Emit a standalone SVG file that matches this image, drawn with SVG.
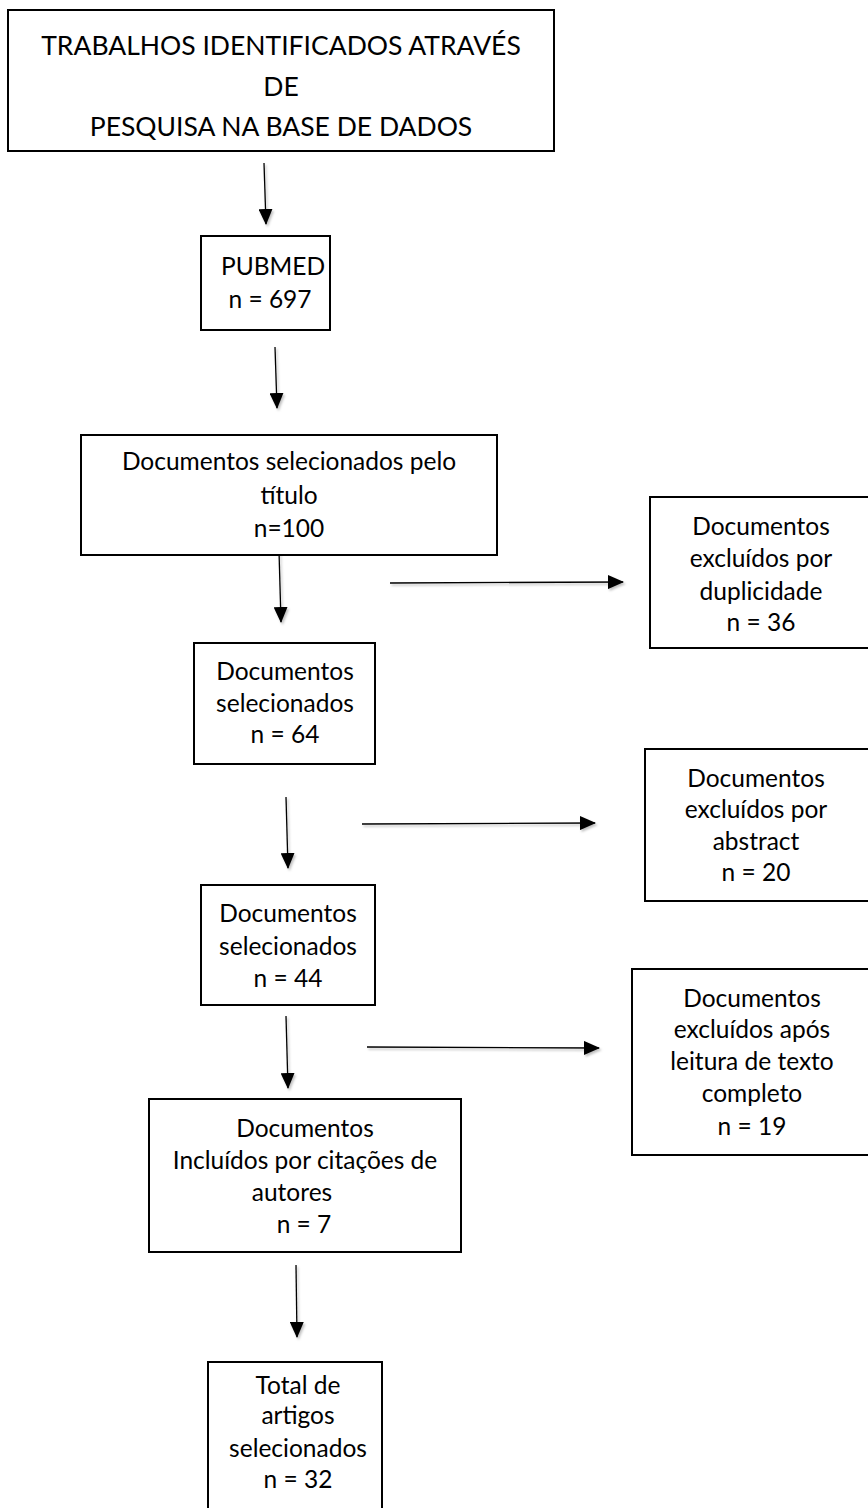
<svg xmlns="http://www.w3.org/2000/svg" width="868" height="1508" viewBox="0 0 868 1508">
<defs>
<marker id="ah" markerUnits="userSpaceOnUse" markerWidth="16" markerHeight="14" refX="15" refY="7" orient="auto">
<path d="M0,0 L16,7 L0,14 Z" fill="#000"/>
</marker>
<filter id="sh" filterUnits="userSpaceOnUse" x="0" y="0" width="868" height="1508">
<feDropShadow dx="1.5" dy="2" stdDeviation="1.2" flood-color="#000" flood-opacity="0.25"/>
</filter>
</defs>
<style>
.box{fill:#fff;stroke:#000;stroke-width:2}
.t{font-family:Lato,"Open Sans","Liberation Sans",sans-serif;font-size:24.5px;fill:#000;text-anchor:middle}
.h{font-size:26.5px}
.c{stroke:#000;stroke-width:1.3;fill:none;marker-end:url(#ah)}
</style>
<rect width="868" height="1508" fill="#fff"/>
<g id="connectors" filter="url(#sh)">
<line class="c" x1="264" y1="163" x2="266" y2="224"/>
<line class="c" x1="275" y1="347" x2="277" y2="408"/>
<line class="c" x1="279" y1="551" x2="281" y2="622"/>
<line class="c" x1="390" y1="583" x2="623" y2="582"/>
<line class="c" x1="286" y1="797" x2="288" y2="868"/>
<line class="c" x1="362" y1="824" x2="595" y2="823"/>
<line class="c" x1="286" y1="1016" x2="288" y2="1088"/>
<line class="c" x1="367" y1="1047" x2="599" y2="1048"/>
<line class="c" x1="296" y1="1265" x2="297" y2="1337"/>
</g>
<g id="n1">
<rect class="box" x="8" y="10" width="546" height="141"/>
<text class="t h" x="281" y="55">TRABALHOS IDENTIFICADOS ATRAVÉS</text>
<text class="t h" x="281" y="96">DE</text>
<text class="t h" x="281" y="136">PESQUISA NA BASE DE DADOS</text>
</g>
<g id="n2">
<rect class="box" x="201" y="236" width="129" height="94"/>
<text class="t" x="273" y="275">PUBMED</text>
<text class="t" x="270" y="308">n = 697</text>
</g>
<g id="n3">
<rect class="box" x="81" y="435" width="416" height="120"/>
<text class="t" x="289" y="470">Documentos selecionados pelo</text>
<text class="t" x="289" y="504">título</text>
<text class="t" x="289" y="537">n=100</text>
</g>
<g id="n4">
<rect class="box" x="650" y="497" width="221" height="151"/>
<text class="t" x="761" y="535">Documentos</text>
<text class="t" x="761" y="567">excluídos por</text>
<text class="t" x="761" y="600">duplicidade</text>
<text class="t" x="761" y="631">n = 36</text>
</g>
<g id="n5">
<rect class="box" x="194" y="643" width="181" height="121"/>
<text class="t" x="285" y="680">Documentos</text>
<text class="t" x="285" y="712">selecionados</text>
<text class="t" x="285" y="743">n = 64</text>
</g>
<g id="n6">
<rect class="box" x="645" y="749" width="226" height="152"/>
<text class="t" x="756" y="787">Documentos</text>
<text class="t" x="756" y="818">excluídos por</text>
<text class="t" x="756" y="850">abstract</text>
<text class="t" x="756" y="881">n = 20</text>
</g>
<g id="n7">
<rect class="box" x="201" y="885" width="174" height="120"/>
<text class="t" x="288" y="922">Documentos</text>
<text class="t" x="288" y="955">selecionados</text>
<text class="t" x="288" y="987">n = 44</text>
</g>
<g id="n8">
<rect class="box" x="632" y="969" width="239" height="186"/>
<text class="t" x="752" y="1007">Documentos</text>
<text class="t" x="752" y="1038">excluídos após</text>
<text class="t" x="752" y="1070">leitura de texto</text>
<text class="t" x="752" y="1102">completo</text>
<text class="t" x="752" y="1135">n = 19</text>
</g>
<g id="n9">
<rect class="box" x="149" y="1099" width="312" height="153"/>
<text class="t" x="305" y="1137">Documentos</text>
<text class="t" x="305" y="1169">Incluídos por citações de</text>
<text class="t" x="292" y="1201">autores</text>
<text class="t" x="304" y="1233">n = 7</text>
</g>
<g id="n10">
<rect class="box" x="208" y="1362" width="174" height="160"/>
<text class="t" x="298" y="1394">Total de</text>
<text class="t" x="298" y="1424">artigos</text>
<text class="t" x="298" y="1457">selecionados</text>
<text class="t" x="298" y="1488">n = 32</text>
</g>
</svg>
